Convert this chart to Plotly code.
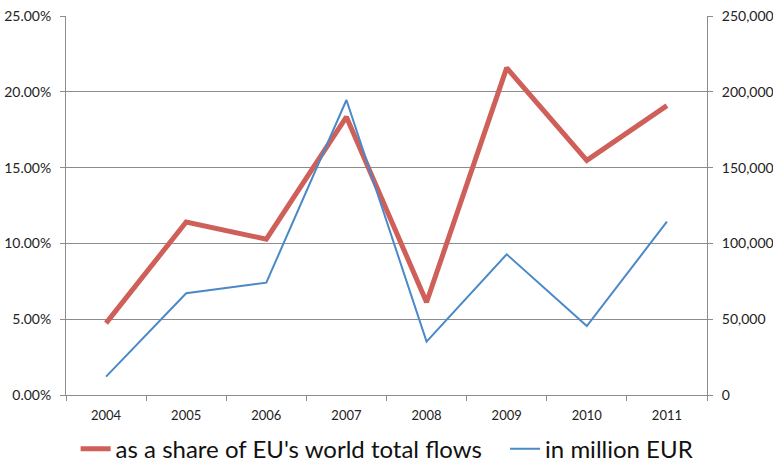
import plotly.graph_objects as go

years = ["2004", "2005", "2006", "2007", "2008", "2009", "2010", "2011"]
share_pct = [4.74, 11.41, 10.28, 18.34, 6.12, 21.58, 15.48, 19.09]
million_eur = [12100, 67100, 74100, 194600, 35200, 92800, 45500, 114300]

share_name = "as a share of EU's world total flows"
eur_name = "in million EUR"

font_family = "Lato, 'Open Sans', sans-serif"

fig = go.Figure()
fig.add_trace(go.Scatter(x=years, y=[v / 100 for v in share_pct], name=share_name,
                         mode="lines", line=dict(color="#CF5F59", width=5), yaxis="y",
                         legend="legend"))
fig.add_trace(go.Scatter(x=years, y=million_eur, name=eur_name,
                         mode="lines", line=dict(color="#4A89C8", width=2), yaxis="y2",
                         legend="legend2"))

legend_common = dict(orientation="h", yanchor="middle", y=-0.143,
                     font=dict(size=24, color="#111"), bgcolor="rgba(0,0,0,0)")

fig.update_layout(
    width=773, height=463,
    margin=dict(l=66, r=66, t=16, b=68, autoexpand=False),
    paper_bgcolor="white", plot_bgcolor="white",
    font=dict(family=font_family, size=12, color="#222"),
    showlegend=True,
    legend=dict(x=0.015, xanchor="left", **legend_common),
    legend2=dict(x=0.685, xanchor="left", **legend_common),
    xaxis=dict(type="category", range=[-0.5, 7.5], showline=True, linecolor="#8c8c8c",
               linewidth=1, ticks="outside", tickson="boundaries", ticklen=5,
               tickcolor="#8c8c8c", showgrid=False, zeroline=False,
               tickfont=dict(size=13), ticklabelstandoff=8),
    yaxis=dict(range=[0, 0.25], dtick=0.05, tickformat=".2%", showline=True,
               linecolor="#8c8c8c", ticks="outside", ticklen=5, tickcolor="#8c8c8c",
               showgrid=True, gridcolor="#8c8c8c", gridwidth=1, zeroline=False,
               tickfont=dict(size=14), ticklabelstandoff=6),
    yaxis2=dict(range=[0, 250000], dtick=50000, tickformat=",d", overlaying="y",
                side="right", showline=True, linecolor="#8c8c8c", ticks="outside",
                ticklen=5, tickcolor="#8c8c8c", showgrid=False, zeroline=False,
                tickfont=dict(size=14), ticklabelstandoff=6),
)

fig.write_html("out.html", config={"displayModeBar": False},
               post_script="document.body.style.margin='0';document.body.style.overflow='hidden';")
